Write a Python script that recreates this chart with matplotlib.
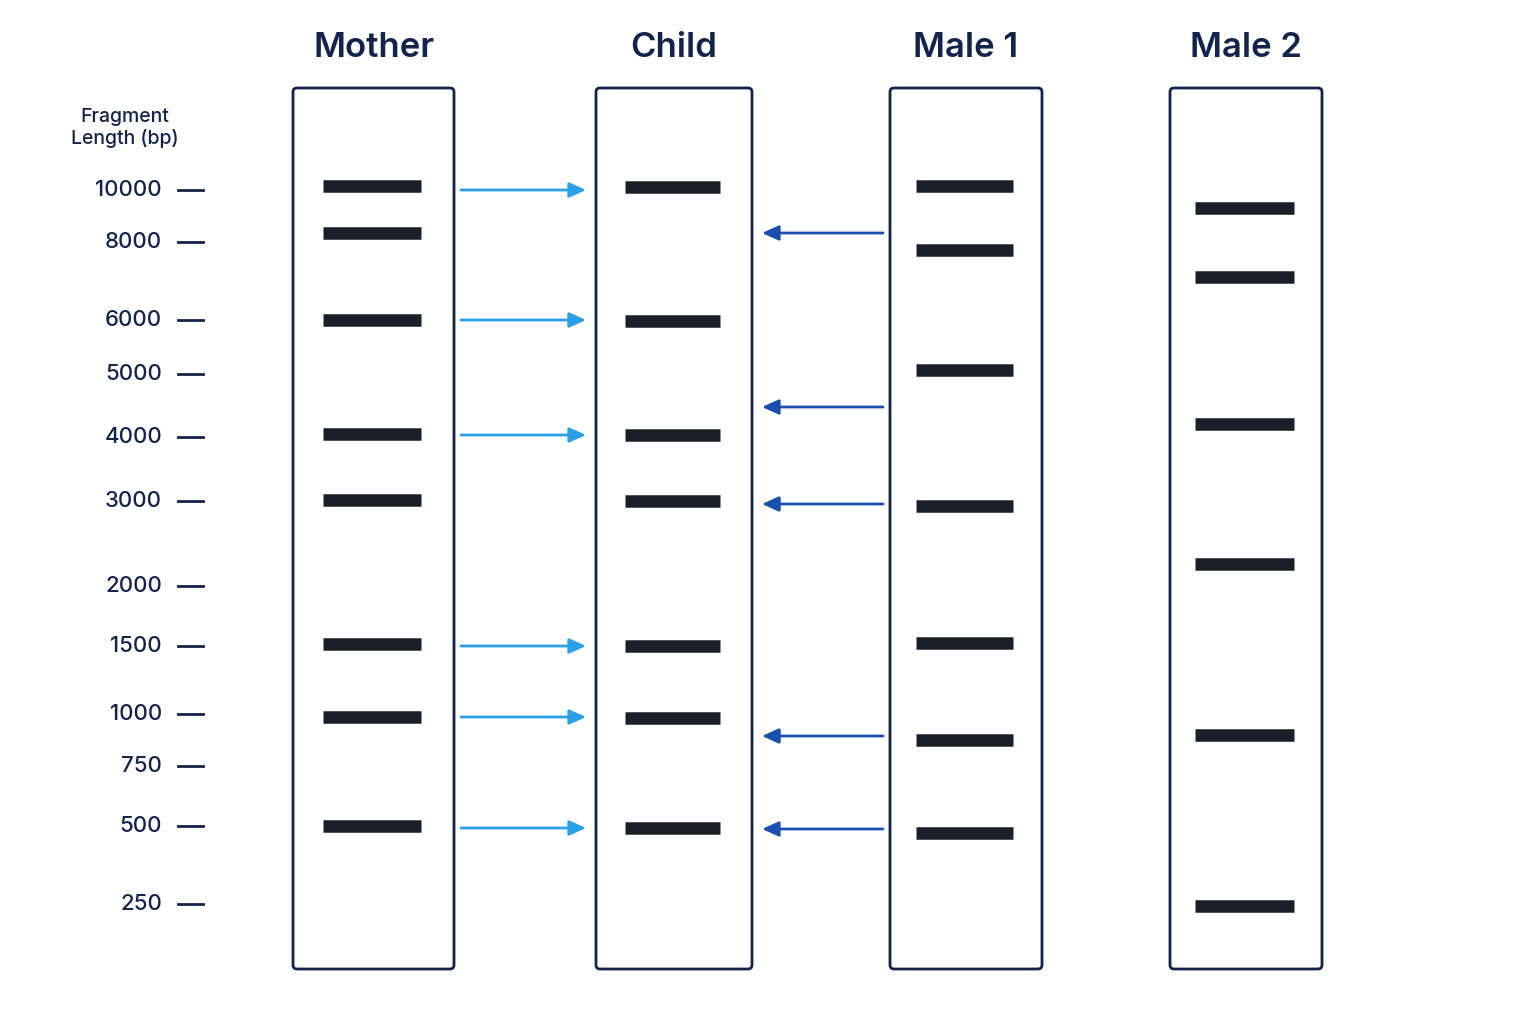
import matplotlib.pyplot as plt
from matplotlib.patches import FancyBboxPatch

plt.rcParams['font.family'] = ['Inter', 'Roboto', 'DejaVu Sans']

# ladder (fragment length -> vertical pixel position on the gel)
ladder_labels = ["10000", "8000", "6000", "5000", "4000", "3000",
                 "2000", "1500", "1000", "750", "500", "250"]
ladder_y = [190, 242, 320, 374, 437, 501, 586, 646, 714, 766, 826, 904]

lane_names = ["Mother", "Child", "Male 1", "Male 2"]
lane_left = [293, 596, 890, 1170]
lane_right = [454, 752, 1042, 1322]

mother_bands = [186, 233, 320, 434, 500, 644, 717, 826]
child_bands = [187, 321, 435, 501, 646, 718, 828]
male1_bands = [186, 250, 370, 506, 643, 740, 833]
male2_bands = [208, 277, 424, 564, 735, 906]
bands = [mother_bands, child_bands, male1_bands, male2_bands]
band_inset = [30, 29, 26, 25]

mother_arrows = [190, 320, 435, 646, 717, 828]
male1_arrows = [233, 407, 504, 736, 829]

navy = "#14234b"
band_col = "#1b1f2a"

fig = plt.figure(figsize=(15.36, 10.24), dpi=100)
ax = fig.add_axes([0, 0, 1, 1])
ax.set_xlim(0, 1536)
ax.set_ylim(1024, 0)
ax.axis("off")

# lanes
for name, l, r, bs, ins in zip(lane_names, lane_left, lane_right, bands, band_inset):
    ax.add_patch(FancyBboxPatch((l, 88), r - l, 881, boxstyle="round,pad=0,rounding_size=4",
                                fill=False, ec=navy, lw=2))
    ax.text((l + r) / 2, 48, name, ha="center", va="center", fontsize=25,
            color=navy, fontweight="semibold")
    for y in bs:
        ax.plot([l + ins, r - ins - 3], [y, y], color=band_col, lw=9, solid_capstyle="butt")

# ladder
ax.text(125, 128, "Fragment\nLength (bp)", ha="center", va="center", fontsize=14,
        color=navy, linespacing=1.2, fontweight="medium")
for lab, y in zip(ladder_labels, ladder_y):
    ax.text(162, y, lab, ha="right", va="center", fontsize=16, color=navy,
            fontweight="medium")
    ax.plot([178, 203], [y, y], color=navy, lw=2)

# arrows
for y in mother_arrows:
    ax.annotate("", xy=(586, y), xytext=(461, y),
                arrowprops=dict(arrowstyle="-|>,head_length=1.0,head_width=0.45",
                                color="#2b9fe6", lw=2, shrinkA=0, shrinkB=0))
for y in male1_arrows:
    ax.annotate("", xy=(762, y), xytext=(883, y),
                arrowprops=dict(arrowstyle="-|>,head_length=1.0,head_width=0.45",
                                color="#1a4fb0", lw=2, shrinkA=0, shrinkB=0))

fig.savefig("out.png", dpi=100, facecolor="white")
